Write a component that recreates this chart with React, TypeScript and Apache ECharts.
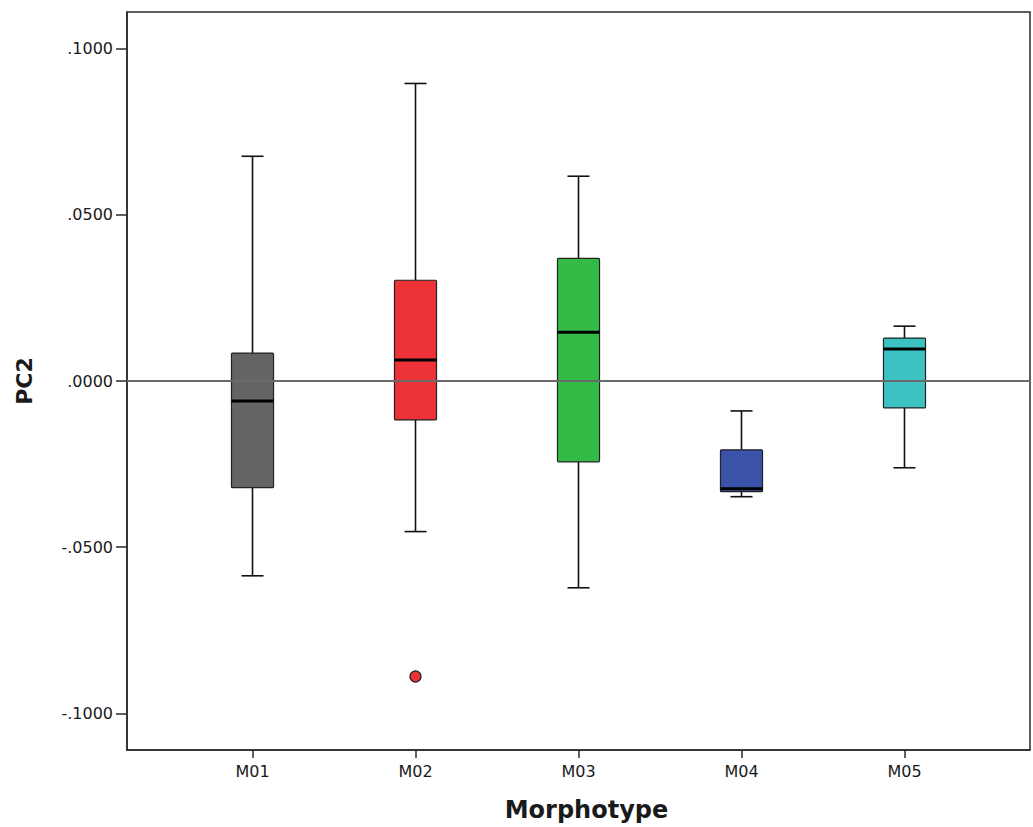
import React, { useEffect, useRef } from "react";
import * as echarts from "echarts";

const categories = ["M01", "M02", "M03", "M04", "M05"];
// [min whisker, Q1, median, Q3, max whisker]
const boxStats = [
  [-0.0586, -0.0321, -0.006, 0.0084, 0.0676],
  [-0.0453, -0.0117, 0.0063, 0.0303, 0.0895],
  [-0.0622, -0.0243, 0.0147, 0.0369, 0.0616],
  [-0.0348, -0.0333, -0.0324, -0.0207, -0.009],
  [-0.0261, -0.0081, 0.0096, 0.0129, 0.0165],
];
const outliers = [[1, -0.0889]];
const yTicks = [-0.1, -0.05, 0, 0.05, 0.1];
const boxColors = ["#646464", "#EE3338", "#33BB47", "#3A53A8", "#3CC2C2"];

const FONT = "DejaVu Sans";

export default function App() {
  const ref = useRef<HTMLDivElement>(null);
  useEffect(() => {
    if (!ref.current) return;
    const chart = echarts.init(ref.current, null, { renderer: "svg" });
    const BOX_W = 0.258;
    const CAP_W = 0.135;
    const data = boxStats.map((s, i) => [i, ...s]);
    chart.setOption({
      animation: false,
      backgroundColor: "#ffffff",
      grid: {
        left: 127,
        top: 12,
        right: 3,
        bottom: 75,
        show: true,
        borderColor: "#2a2a2a",
        borderWidth: 1.5,
        backgroundColor: "transparent",
      },
      xAxis: {
        type: "value",
        min: -0.77,
        max: 4.77,
        splitLine: { show: false },
        axisLine: { show: true, onZero: false, lineStyle: { color: "#2a2a2a", width: 1.5 } },
        axisTick: {
          show: true,
          length: 8,
          customValues: categories.map((_, i) => i),
          lineStyle: { color: "#2a2a2a", width: 1.5 },
        },
        axisLabel: {
          customValues: categories.map((_, i) => i),
          formatter: (v: number) => categories[Math.round(v)] ?? "",
          fontFamily: FONT,
          fontSize: 16,
          color: "#1a1a1a",
          margin: 13,
        },
        name: "Morphotype",
        nameLocation: "middle",
        nameGap: 48,
        nameTextStyle: {
          fontFamily: FONT,
          fontSize: 24,
          fontWeight: "bold",
          color: "#1a1a1a",
          padding: [0, 0, 0, 16],
        },
      },
      yAxis: {
        type: "value",
        min: -0.111,
        max: 0.111,
        splitLine: { show: false },
        axisLine: { show: true, onZero: false, lineStyle: { color: "#2a2a2a", width: 1.5 } },
        axisTick: {
          show: true,
          length: 11,
          customValues: yTicks,
          lineStyle: { color: "#2a2a2a", width: 1.5 },
        },
        axisLabel: {
          customValues: yTicks,
          formatter: (v: number) =>
            (v < -1e-9 ? "-" : "") + Math.abs(v).toFixed(4).replace(/^0/, ""),
          fontFamily: FONT,
          fontSize: 16,
          color: "#1a1a1a",
          margin: 14,
        },
        name: "PC2",
        nameLocation: "middle",
        nameGap: 92,
        nameTextStyle: {
          fontFamily: FONT,
          fontSize: 22,
          fontWeight: "bold",
          color: "#1a1a1a",
        },
      },
      series: [
        {
          type: "custom",
          z: 2,
          data,
          encode: { x: 0, y: [1, 2, 3, 4, 5] },
          renderItem: (params: any, api: any) => {
            const i = api.value(0);
            const lo = api.coord([i, api.value(1)]);
            const q1 = api.coord([i, api.value(2)]);
            const med = api.coord([i, api.value(3)]);
            const q3 = api.coord([i, api.value(4)]);
            const hi = api.coord([i, api.value(5)]);
            const bw = api.size([BOX_W, 0])[0];
            const cw = api.size([CAP_W, 0])[0];
            const cx = lo[0];
            const lineStyle = { stroke: "#111", lineWidth: 1.6 };
            return {
              type: "group",
              children: [
                { type: "line", shape: { x1: cx, y1: hi[1], x2: cx, y2: q3[1] }, style: lineStyle },
                { type: "line", shape: { x1: cx, y1: q1[1], x2: cx, y2: lo[1] }, style: lineStyle },
                { type: "line", shape: { x1: cx - cw / 2, y1: hi[1], x2: cx + cw / 2, y2: hi[1] }, style: lineStyle },
                { type: "line", shape: { x1: cx - cw / 2, y1: lo[1], x2: cx + cw / 2, y2: lo[1] }, style: lineStyle },
                {
                  type: "rect",
                  shape: { x: cx - bw / 2, y: q3[1], width: bw, height: q1[1] - q3[1], r: 1 },
                  style: { fill: boxColors[i], stroke: "#222", lineWidth: 1.2 },
                },
                {
                  type: "line",
                  shape: { x1: cx - bw / 2, y1: med[1], x2: cx + bw / 2, y2: med[1] },
                  style: { stroke: "#000", lineWidth: 3 },
                },
              ],
            };
          },
        },
        {
          type: "scatter",
          z: 3,
          data: outliers,
          symbol: "circle",
          symbolSize: 11,
          itemStyle: { color: boxColors[1], borderColor: "#222", borderWidth: 1.2, opacity: 1 },
          markLine: {
            silent: true,
            symbol: "none",
            label: { show: false },
            lineStyle: { color: "#6a6a6a", width: 2, type: "solid" },
            data: [{ yAxis: 0 }],
          },
        },
      ],
    });
    return () => chart.dispose();
  }, []);
  return (
    <div
      ref={ref}
      style={{ position: "fixed", left: 0, top: 0, width: 1033, height: 827 }}
    />
  );
}
